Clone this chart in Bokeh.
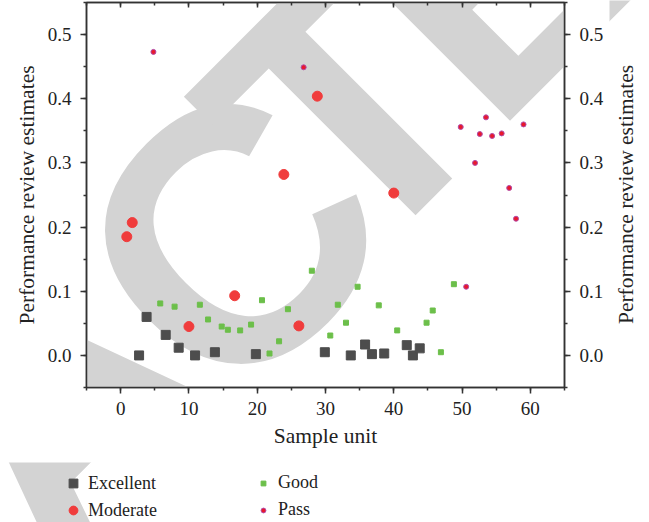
import math
from bokeh.plotting import figure
from bokeh.layouts import column, row
from bokeh.models import (LinearAxis, Legend, LegendItem, SingleIntervalTicker,
                          PrintfTickFormatter, CustomJSTickFormatter, Range1d, Label)
from bokeh.embed import file_html
from bokeh.resources import INLINE

# ---- data ----
exc_x = [2.7, 3.8, 6.6, 8.5, 10.9, 13.8, 19.8, 29.9, 33.7, 35.8, 36.8, 38.6, 41.9, 42.8, 43.8]
exc_y = [0.000, 0.060, 0.032, 0.012, 0.000, 0.005, 0.002, 0.005, 0.000, 0.017, 0.002, 0.003, 0.016, 0.000, 0.011]

mod_x = [0.9, 1.7, 10.0, 16.7, 23.9, 26.1, 28.8, 40.0]
mod_y = [0.185, 0.207, 0.045, 0.093, 0.282, 0.046, 0.404, 0.253]

good_x = [5.8, 7.9, 11.6, 12.8, 14.8, 15.7, 17.5, 19.1, 20.7, 21.8, 23.2, 24.5, 28.0,
          30.7, 31.8, 33.0, 34.7, 37.8, 40.5, 44.8, 45.7, 46.9, 48.8]
good_y = [0.081, 0.076, 0.079, 0.056, 0.045, 0.040, 0.039, 0.048, 0.086, 0.003, 0.022, 0.072, 0.132,
          0.031, 0.079, 0.051, 0.107, 0.078, 0.039, 0.051, 0.070, 0.005, 0.111]

pass_x = [4.8, 26.8, 49.8, 50.6, 51.9, 52.6, 53.5, 54.4, 55.8, 56.9, 57.9, 59.0]
pass_y = [0.473, 0.449, 0.356, 0.107, 0.300, 0.345, 0.371, 0.342, 0.346, 0.261, 0.213, 0.360]

series_names = ["Excellent", "Moderate", "Good", "Pass"]
x_title = "Sample unit"
y_title = "Performance review estimates"

# watermark letters (decoration): letter, canvas x, canvas y
wm_letters = ["A", "C", "T", "E"]
wm_cx = [60, 230, 345, 489]
wm_cy = [405, 238, 108, -36]

W, H = 649, 522
H1 = 462            # main figure height; legend strip below it
W1 = 609            # main figure width; right title strip beside it
FL, FR, FT, FB = 86, 564, 2, 387

SERIF = "Liberation Serif"
AX = "#333333"
TXT = "#222222"
STY = {
    "exc": dict(marker="square", size=9, fill_color="#4d4d4d", line_color="#4d4d4d"),
    "mod": dict(marker="circle", size=10, fill_color="#f03c3c", line_color="#f03c3c"),
    "good": dict(marker="square", size=5, fill_color="#6cbf4a", line_color="#6cbf4a"),
    "pass": dict(marker="circle", size=5, fill_color="#e8192c", line_color="#b24aa8", line_width=1),
}


def strip(w, h):
    f = figure(width=w, height=h, output_backend="svg", toolbar_location=None,
               x_range=Range1d(100, 101), y_range=Range1d(100, 101), min_border=0,
               min_border_left=0, min_border_right=0, min_border_top=0,
               min_border_bottom=0, x_axis_location=None, y_axis_location=None)
    f.frame_align = False
    f.grid.visible = False
    f.outline_line_color = None
    f.border_fill_color = "white"
    f.background_fill_color = "white"
    return f


p = figure(width=W1, height=H1, output_backend="svg", toolbar_location=None,
           x_range=Range1d(-5, 65), y_range=Range1d(-0.05, 0.55),
           min_border_left=FL, min_border_right=W1 - FR, min_border_top=FT,
           min_border_bottom=H1 - FB, x_axis_location=None, y_axis_location=None)
p.frame_align = False
p.grid.visible = False
p.outline_line_color = AX
p.outline_line_width = 1.5
p.background_fill_color = "white"
p.border_fill_color = "white"

xt = SingleIntervalTicker(interval=10, num_minor_ticks=2)
yt = SingleIntervalTicker(interval=0.1, num_minor_ticks=2)
yfmt = PrintfTickFormatter(format="%.1f")


def style(ax):
    ax.axis_line_color = AX
    ax.axis_line_width = 1.5
    ax.major_tick_line_color = AX
    ax.minor_tick_line_color = AX
    ax.major_tick_line_width = 1.5
    ax.minor_tick_line_width = 1.5
    ax.major_label_text_font = SERIF
    ax.major_label_text_font_size = "19px"
    ax.major_label_text_color = TXT
    ax.axis_label_text_font = SERIF
    ax.axis_label_text_font_size = "21.5px"
    ax.axis_label_text_font_style = "normal"
    ax.axis_label_text_color = TXT


xb = LinearAxis(ticker=xt, axis_label=x_title)
style(xb)
xb.major_tick_out = 6
xb.major_tick_in = 0
xb.minor_tick_out = 3
xb.minor_tick_in = 0
xb.major_label_standoff = 8
xb.axis_label_standoff = 6
p.add_layout(xb, "below")

xa = LinearAxis(ticker=xt, formatter=CustomJSTickFormatter(code="return ''"))
style(xa)
xa.major_tick_out = 0
xa.major_tick_in = 5
xa.minor_tick_out = 0
xa.minor_tick_in = 3
xa.major_label_text_font_size = "1px"
xa.major_label_standoff = 0
p.add_layout(xa, "above")

for side in ("left", "right"):
    ya = LinearAxis(ticker=yt, formatter=yfmt,
                    axis_label=y_title if side == "left" else None)
    style(ya)
    ya.major_tick_out = 6
    ya.major_tick_in = 0
    ya.minor_tick_out = 3
    ya.minor_tick_in = 0
    ya.major_label_standoff = 9
    ya.axis_label_standoff = 6
    p.add_layout(ya, side)


def watermark(fig, left, bottom):
    for t, cx, cy in zip(wm_letters, wm_cx, wm_cy):
        fig.add_layout(Label(x=cx - left, y=bottom - cy,
                             x_units="screen", y_units="screen",
                             text=t, angle=math.pi / 4, text_align="center",
                             text_baseline="middle", text_font="Liberation Sans",
                             text_font_style="bold", text_font_size="360px",
                             text_color="#d3d3d3", level="underlay"))


watermark(p, FL, FB)

p.scatter(exc_x, exc_y, **STY["exc"])
p.scatter(mod_x, mod_y, **STY["mod"])
p.scatter(good_x, good_y, **STY["good"])
p.scatter(pass_x, pass_y, **STY["pass"])

# right strip: title of the right-hand y axis, reading bottom to top
rp = strip(W - W1, H1)
watermark(rp, W1, H1)
rp.add_layout(Label(x=625 - W1, y=H1 - 194, x_units="screen", y_units="screen",
                    text=y_title, angle=math.pi / 2, text_align="center",
                    text_baseline="middle", text_font=SERIF,
                    text_font_size="21.5px", text_color=TXT))

# legend strip (its frame covers the whole strip so the legend is not clipped);
# its ranges lie outside the data so the proxy renderers draw nothing there
lp = strip(W, H - H1)
watermark(lp, 0, H)
proxies = [lp.scatter(exc_x, exc_y, **STY["exc"]),
           lp.scatter(mod_x, mod_y, **STY["mod"]),
           lp.scatter(good_x, good_y, **STY["good"]),
           lp.scatter(pass_x, pass_y, **STY["pass"])]

common = dict(orientation="vertical", padding=0, margin=0, label_text_font=SERIF,
              label_text_font_size="18px", label_text_color=TXT,
              border_line_color=None, background_fill_alpha=0)
leg1 = Legend(items=[LegendItem(label=series_names[i], renderers=[proxies[i]]) for i in (0, 1)],
              location=(62, 1), glyph_width=22, glyph_height=22, spacing=5,
              label_standoff=4, **common)
leg2 = Legend(items=[LegendItem(label=series_names[i], renderers=[proxies[i]]) for i in (2, 3)],
              location=(257, 2), glyph_width=12, glyph_height=12, spacing=6,
              label_standoff=9, **common)
lp.add_layout(leg1, "center")
lp.add_layout(leg2, "center")

page = column(row(p, rp, spacing=0), lp, spacing=0)
open("out.html", "w").write(file_html(page, INLINE))
